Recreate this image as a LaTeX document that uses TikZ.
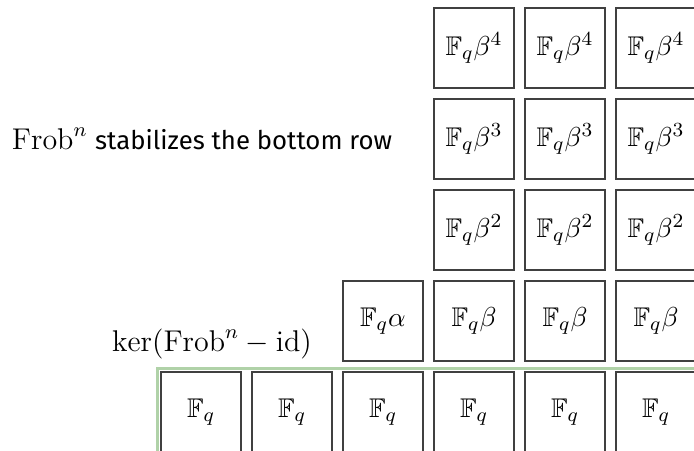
\documentclass[tikz,border=0pt]{standalone}
\usepackage{amsmath,amssymb}
\usepackage{fontspec}
\newfontfamily\labelfont{Fira Sans}
\usepackage{tikz}
\usetikzlibrary{positioning,fit}
\definecolor{fixgreen}{RGB}{176,210,168}

\begin{document}
\begin{tikzpicture}[
  x=0.4pt, y=0.4pt,
  every node/.style={font=\fontsize{10.8}{13}\selectfont},
  cell/.style={draw=black!75, line width=0.5pt, minimum size=32pt, inner sep=0pt},
  fixedrow/.style={draw=fixgreen, line width=1.2pt, inner sep=1.2pt},
  caption/.style={font=\large}
]
  \clip (0,0) rectangle (694,451);

  % bottom row, fixed by Frobenius
  \foreach \j in {0,...,5}
    \node[cell] (f\j) at (201+91*\j,39) {$\mathbb{F}_q$};
  \node[fixedrow, fit=(f0)(f5)] (bottom) {};

  % first row: alpha, then beta
  \node[cell] (a) at (383,130) {$\mathbb{F}_q\alpha$};
  \foreach \j in {3,4,5}
    \node[cell] (b1\j) at (201+91*\j,130) {$\mathbb{F}_q\beta$};

  % higher powers of beta
  \foreach \k in {2,3,4}
    \foreach \j in {3,4,5}
      \node[cell] (b\k\j) at (201+91*\j,39+91*\k) {$\mathbb{F}_q\beta^{\k}$};

  \node[caption, left=13pt of b33] (stab)
    {$\mathrm{Frob}^n$\hspace{0.25em}{\labelfont\fontsize{10.3}{13}\selectfont stabilizes the bottom row}};
  \node[caption, left=11pt of a.south west, anchor=south east, inner sep=1pt] (ker)
    {$\ker(\mathrm{Frob}^n-\mathrm{id})$};
\end{tikzpicture}
\end{document}
